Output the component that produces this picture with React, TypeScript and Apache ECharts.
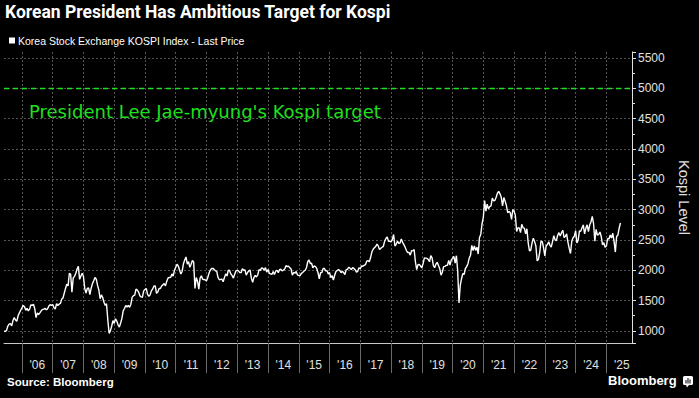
import React, { useEffect, useRef } from "react";
import * as echarts from "echarts";

// ---------- texts ----------
const TITLE = "Korean President Has Ambitious Target for Kospi";
const SERIES_NAME = "Korea Stock Exchange KOSPI Index - Last Price";
const TARGET_LABEL = "President Lee Jae-myung's Kospi target";
const Y_NAME = "Kospi Level";
const SOURCE = "Source: Bloomberg";
const BRAND = "Bloomberg";
const TARGET_LEVEL = 5000;

// ---------- data: KOSPI, two readings per month (mid-month, month-end) ----------
// 2005 starts with the May month-end reading, then Jun..Dec
const k2005 = [995, 990, 1008, 1080, 1111, 1120, 1083, 1170, 1221, 1180, 1158, 1250, 1297, 1340, 1379];
const k2006 = [1420, 1399, 1340, 1371, 1330, 1359, 1430, 1419, 1440, 1364, 1220, 1295, 1270, 1297, 1330, 1352, 1360, 1371, 1350, 1364, 1410, 1432, 1420, 1434];
const k2007 = [1380, 1360, 1450, 1417, 1440, 1452, 1520, 1542, 1620, 1700, 1770, 1743, 1950, 1933, 1640, 1873, 1900, 1946, 2020, 2064, 1850, 1906, 1950, 1897];
const k2008 = [1700, 1624, 1700, 1711, 1600, 1704, 1780, 1825, 1880, 1852, 1750, 1674, 1530, 1594, 1550, 1474, 1420, 1448, 1180, 960, 1000, 1076, 1170, 1124];
const k2009 = [1200, 1162, 1100, 1063, 1130, 1206, 1330, 1369, 1420, 1395, 1420, 1390, 1440, 1557, 1580, 1591, 1690, 1673, 1640, 1580, 1560, 1555, 1660, 1682];
const k2010 = [1700, 1602, 1570, 1594, 1660, 1692, 1740, 1741, 1620, 1641, 1700, 1698, 1740, 1759, 1780, 1742, 1820, 1872, 1880, 1882, 1940, 1904, 2000, 2051];
const k2011 = [2100, 2069, 2000, 1939, 1980, 2107, 2170, 2220, 2100, 2142, 2050, 2100, 2160, 2133, 1700, 1880, 1820, 1690, 1870, 1909, 1850, 1847, 1840, 1826];
const k2012 = [1880, 1955, 2000, 2030, 2030, 2014, 1990, 1982, 1880, 1843, 1850, 1854, 1810, 1881, 1940, 1905, 2000, 1996, 1940, 1912, 1870, 1933, 1990, 1997];
const k2013 = [1990, 1961, 1960, 2026, 2000, 2005, 1920, 1963, 1990, 2001, 1870, 1800, 1880, 1914, 1890, 1926, 2010, 1997, 2040, 2030, 2000, 2044, 1970, 2011];
const k2014 = [1950, 1941, 1930, 1980, 1930, 1985, 2000, 1961, 2010, 2017, 1990, 2002, 2020, 2076, 2060, 2068, 2040, 2020, 1920, 1964, 1950, 1981, 1920, 1916];
const k2015 = [1910, 1949, 1960, 1986, 2000, 2041, 2140, 2170, 2110, 2115, 2040, 2074, 2060, 2030, 1960, 1860, 1960, 1963, 2030, 2029, 1990, 1992, 1940, 1961];
const k2016 = [1880, 1912, 1840, 1917, 1980, 1996, 2010, 1994, 1960, 1983, 1960, 1930, 2010, 2016, 2050, 2034, 2010, 2043, 2030, 2008, 1970, 1983, 2040, 2026];
const k2017 = [2070, 2067, 2080, 2092, 2150, 2160, 2140, 2205, 2300, 2347, 2370, 2392, 2430, 2402, 2340, 2363, 2380, 2394, 2480, 2523, 2550, 2476, 2480, 2467];
const k2018 = [2510, 2590, 2400, 2427, 2480, 2445, 2450, 2515, 2460, 2423, 2380, 2326, 2290, 2295, 2250, 2322, 2320, 2343, 2140, 2010, 2090, 2096, 2070, 2041];
const k2019 = [2110, 2204, 2200, 2195, 2180, 2140, 2240, 2203, 2080, 2041, 2100, 2130, 2080, 2025, 1920, 1967, 2060, 2063, 2080, 2083, 2160, 2087, 2170, 2197];
const k2020 = [2230, 2119, 2240, 1987, 1460, 1754, 1860, 1947, 1930, 2029, 2060, 2108, 2200, 2249, 2410, 2326, 2400, 2327, 2380, 2267, 2540, 2591, 2770, 2873];
const k2021 = [3150, 2976, 3090, 3013, 3050, 3061, 3190, 3147, 3150, 3203, 3270, 3300, 3260, 3202, 3060, 3199, 3140, 3068, 2950, 2970, 2950, 2839, 3000, 2977];
const k2022 = [2900, 2640, 2700, 2699, 2620, 2757, 2700, 2695, 2600, 2685, 2450, 2320, 2330, 2451, 2530, 2472, 2400, 2155, 2180, 2293, 2480, 2472, 2370, 2236];
const k2023 = [2400, 2425, 2470, 2412, 2380, 2476, 2570, 2501, 2490, 2577, 2620, 2564, 2620, 2660, 2540, 2556, 2600, 2465, 2360, 2277, 2480, 2535, 2560, 2655];
const k2024 = [2450, 2497, 2650, 2642, 2700, 2747, 2600, 2692, 2750, 2636, 2750, 2797, 2890, 2770, 2480, 2674, 2580, 2593, 2630, 2556, 2420, 2455, 2380, 2399];
// 2025: Jan..May (mid, end), then mid-June
const k2025 = [2520, 2517, 2580, 2532, 2610, 2481, 2300, 2556, 2580, 2697, 2780];

const kospiValues: number[] = [
  ...k2005, ...k2006, ...k2007, ...k2008, ...k2009, ...k2010, ...k2011,
  ...k2012, ...k2013, ...k2014, ...k2015, ...k2016, ...k2017, ...k2018,
  ...k2019, ...k2020, ...k2021, ...k2022, ...k2023, ...k2024, ...k2025,
];

// category axis: half-month steps from end of May 2005 to end of Oct 2025
const AXIS_FIRST_YEAR = 2005;
const AXIS_LAST_YEAR = 2025;
const AXIS_LAST_MONTH = 10;

function buildCategories(): string[] {
  const out: string[] = [`${AXIS_FIRST_YEAR}-05-b`];
  for (let y = AXIS_FIRST_YEAR; y <= AXIS_LAST_YEAR; y++) {
    const m0 = y === AXIS_FIRST_YEAR ? 6 : 1;
    const m1 = y === AXIS_LAST_YEAR ? AXIS_LAST_MONTH : 12;
    for (let m = m0; m <= m1; m++) {
      const mm = String(m).padStart(2, "0");
      out.push(`${y}-${mm}-a`, `${y}-${mm}-b`);
    }
  }
  return out;
}

const categories = buildCategories();
const seriesData = categories.map((_, i) => (i < kospiValues.length ? kospiValues[i] : null));

const GREEN = "#1fe01f";
const FONT = "'Liberation Sans', Arial, sans-serif";

export default function App() {
  const ref = useRef<HTMLDivElement>(null);

  useEffect(() => {
    document.body.style.margin = "0";
    document.body.style.background = "#000000";
    if (!ref.current) return;
    const chart = echarts.init(ref.current, null, { renderer: "svg" });

    const isYearEnd = (_i: number, v: string) => v.endsWith("-12-b");
    const isMidYear = (_i: number, v: string) => v.endsWith("-06-b") && Number(v.slice(0, 4)) > AXIS_FIRST_YEAR;

    chart.setOption({
      animation: false,
      backgroundColor: "#000000",
      textStyle: { fontFamily: FONT },
      title: {
        text: TITLE,
        left: 5,
        top: 3,
        padding: 0,
        textStyle: { color: "#ffffff", fontSize: 17.5, fontWeight: "bold", fontFamily: "Roboto, sans-serif" },
      },
      legend: {
        data: [SERIES_NAME],
        left: 9,
        top: 35,
        padding: 0,
        icon: "rect",
        itemWidth: 6,
        itemHeight: 6,
        itemGap: 4,
        textStyle: { color: "#ffffff", fontSize: 10.5, fontFamily: FONT, padding: [0, 0, 0, -2] },
      },
      grid: { left: 4, right: 57, top: 52, bottom: 55, containLabel: false },
      xAxis: {
        type: "category",
        data: categories,
        boundaryGap: false,
        axisLine: { show: true, lineStyle: { color: "#c8c8c8", width: 1 } },
        axisTick: { show: true, interval: isYearEnd, length: 30, lineStyle: { color: "#6a6a6a", width: 1 } },
        axisLabel: {
          show: true,
          interval: isMidYear,
          color: "#e0e0e0",
          fontSize: 12,
          margin: 16,
          formatter: (v: string) => "'" + v.slice(2, 4),
        },
        splitLine: { show: true, interval: isYearEnd, lineStyle: { color: "#555555", type: [2, 2], width: 1 } },
      },
      yAxis: {
        type: "value",
        position: "right",
        min: 800,
        max: 5600,
        splitNumber: 10,
        axisLine: { show: true, lineStyle: { color: "#e0e0e0", width: 1 } },
        axisTick: { show: true, length: 4, lineStyle: { color: "#e0e0e0" } },
        minorTick: { show: true, splitNumber: 2, length: 3, lineStyle: { color: "#e0e0e0" } },
        axisLabel: {
          color: "#e0e0e0",
          fontSize: 12,
          margin: 6,
          showMinLabel: false,
          showMaxLabel: false,
          formatter: (v: number) => String(v),
        },
        splitLine: {
          show: true,
          showMinLine: false,
          showMaxLine: false,
          lineStyle: { color: "#555555", type: [2, 2], width: 1 },
        },
        name: Y_NAME,
        nameLocation: "middle",
        nameRotate: -90,
        nameGap: 44,
        nameTextStyle: { color: "#e0e0e0", fontSize: 14.5 },
      },
      series: [
        {
          name: SERIES_NAME,
          type: "line",
          data: seriesData,
          showSymbol: false,
          connectNulls: false,
          itemStyle: { color: "#ffffff" },
          lineStyle: { color: "#ffffff", width: 1.4 },
          markLine: {
            silent: true,
            symbol: "none",
            label: { show: false },
            lineStyle: { color: GREEN, type: [5, 4], width: 1.4 },
            data: [{ yAxis: TARGET_LEVEL }],
          },
        },
      ],
      graphic: [
        {
          type: "text",
          left: 29,
          top: 102,
          style: { text: TARGET_LABEL, fill: GREEN, fontSize: 18, fontFamily: "'DejaVu Sans', sans-serif" },
        },
        {
          type: "text",
          left: 7,
          top: 376,
          style: { text: SOURCE, fill: "#ffffff", fontSize: 11.5, fontWeight: "bold", fontFamily: FONT },
        },
        {
          type: "text",
          left: 608,
          top: 374,
          style: { text: BRAND, fill: "#ffffff", fontSize: 13, fontWeight: "bold", fontFamily: FONT },
        },
        {
          type: "group",
          left: 683,
          top: 376,
          children: [
            { type: "rect", shape: { x: 0, y: 0, width: 10, height: 9, r: 1.5 }, style: { fill: "#ffffff" } },
            { type: "polygon", shape: { points: [[3, 9], [6, 9], [4, 11.5]] }, style: { fill: "#ffffff" } },
            { type: "rect", shape: { x: 2.5, y: 4, width: 1, height: 3.5 }, style: { fill: "#000000" } },
            { type: "rect", shape: { x: 4.5, y: 2, width: 1, height: 5.5 }, style: { fill: "#000000" } },
            { type: "rect", shape: { x: 6.5, y: 3.5, width: 1, height: 4 }, style: { fill: "#000000" } },
          ],
        },
      ],
    });

    return () => chart.dispose();
  }, []);

  return <div ref={ref} style={{ width: 699, height: 398 }} />;
}
